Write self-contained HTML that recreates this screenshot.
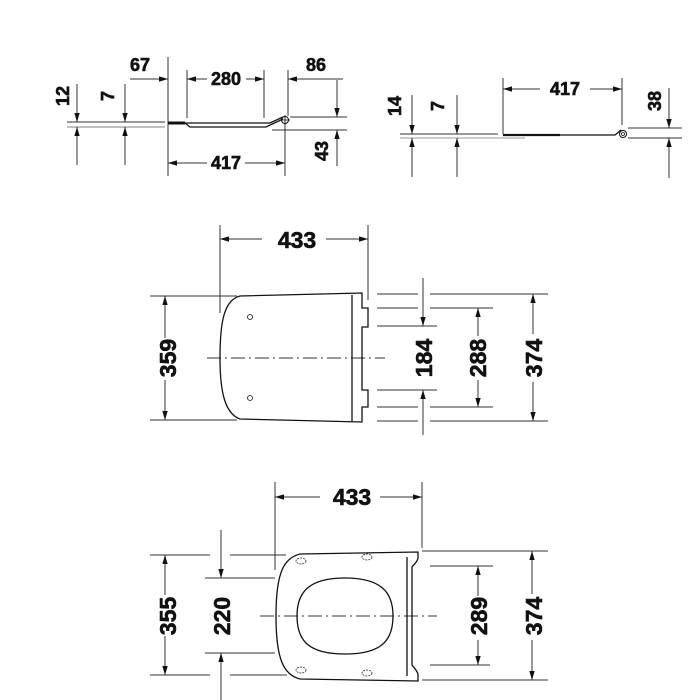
<!DOCTYPE html>
<html><head><meta charset="utf-8"><style>
html,body{margin:0;padding:0;background:#fff;}
svg{display:block}
text{font-family:"Liberation Sans",sans-serif;font-weight:bold;fill:#111;stroke:#111;stroke-width:0.6;}
</style></head><body>
<svg width="700" height="700" viewBox="0 0 700 700" xmlns="http://www.w3.org/2000/svg">
<defs>
<marker id="a" viewBox="0 0 10 6" refX="10" refY="3" markerWidth="9" markerHeight="5.5" markerUnits="userSpaceOnUse" orient="auto"><path d="M0,0 L10,3 L0,6 Z" fill="#111" stroke="none"/></marker>
</defs>
<g stroke="#333" stroke-width="1" fill="none">
<line x1="168" y1="57" x2="168" y2="176"/>
<line x1="187" y1="70" x2="187" y2="118"/>
<line x1="264" y1="70" x2="264" y2="118"/>
<line x1="288" y1="70" x2="288" y2="116"/>
<line x1="285" y1="124" x2="285" y2="176"/>
<line x1="130" y1="79" x2="168" y2="79" marker-end="url(#a)"/>
<line x1="207" y1="79" x2="187" y2="79" marker-end="url(#a)"/>
<line x1="246" y1="79" x2="264" y2="79" marker-end="url(#a)"/>
<line x1="343" y1="79" x2="288" y2="79" marker-end="url(#a)"/>
<line x1="207" y1="163" x2="168" y2="163" marker-end="url(#a)"/>
<line x1="245" y1="163" x2="285" y2="163" marker-end="url(#a)"/>
<line x1="67" y1="122" x2="165" y2="122"/>
<line x1="67" y1="127" x2="165" y2="127" stroke="#aaa" stroke-width="1.5"/>
<line x1="77" y1="84" x2="77" y2="122" marker-end="url(#a)"/>
<line x1="77" y1="165" x2="77" y2="127" marker-end="url(#a)"/>
<line x1="125" y1="84" x2="125" y2="122" marker-end="url(#a)"/>
<line x1="125" y1="165" x2="125" y2="127" marker-end="url(#a)"/>
<line x1="290" y1="117" x2="347" y2="117"/>
<line x1="272" y1="130" x2="347" y2="130"/>
<line x1="337" y1="80" x2="337" y2="117" marker-end="url(#a)"/>
<line x1="337" y1="166" x2="337" y2="130" marker-end="url(#a)"/>
<line x1="503" y1="78" x2="503" y2="134"/>
<line x1="622" y1="78" x2="622" y2="125"/>
<line x1="540" y1="89" x2="503" y2="89" marker-end="url(#a)"/>
<line x1="590" y1="89" x2="622" y2="89" marker-end="url(#a)"/>
<line x1="400" y1="134" x2="498" y2="134"/>
<line x1="400" y1="138" x2="525" y2="138" stroke="#999"/>
<line x1="412" y1="95" x2="412" y2="134" marker-end="url(#a)"/>
<line x1="412" y1="177" x2="412" y2="138" marker-end="url(#a)"/>
<line x1="457" y1="95" x2="457" y2="134" marker-end="url(#a)"/>
<line x1="457" y1="177" x2="457" y2="138" marker-end="url(#a)"/>
<line x1="628" y1="128" x2="682" y2="128"/>
<line x1="628" y1="138" x2="682" y2="138"/>
<line x1="669" y1="88" x2="669" y2="128" marker-end="url(#a)"/>
<line x1="669" y1="178" x2="669" y2="138" marker-end="url(#a)"/>
<line x1="220" y1="225" x2="220" y2="313"/>
<line x1="368" y1="225" x2="368" y2="300"/>
<line x1="262" y1="239" x2="220" y2="239" marker-end="url(#a)"/>
<line x1="326" y1="239" x2="368" y2="239" marker-end="url(#a)"/>
<line x1="150" y1="296" x2="237" y2="296"/>
<line x1="150" y1="420" x2="237" y2="420"/>
<line x1="165" y1="338" x2="165" y2="296" marker-end="url(#a)"/>
<line x1="165" y1="380" x2="165" y2="420" marker-end="url(#a)"/>
<line x1="377" y1="294" x2="418" y2="294"/><line x1="430" y1="294" x2="548" y2="294"/>
<line x1="377" y1="308" x2="418" y2="308"/><line x1="430" y1="308" x2="493" y2="308"/>
<line x1="377" y1="326" x2="437" y2="326"/>
<line x1="377" y1="390" x2="437" y2="390"/>
<line x1="377" y1="407" x2="418" y2="407"/><line x1="430" y1="407" x2="493" y2="407"/>
<line x1="377" y1="421" x2="418" y2="421"/><line x1="430" y1="421" x2="548" y2="421"/>
<line x1="423" y1="278" x2="423" y2="326" marker-end="url(#a)"/>
<line x1="423" y1="435" x2="423" y2="390" marker-end="url(#a)"/>
<line x1="478" y1="336" x2="478" y2="308" marker-end="url(#a)"/>
<line x1="478" y1="380" x2="478" y2="407" marker-end="url(#a)"/>
<line x1="533" y1="334" x2="533" y2="294" marker-end="url(#a)"/>
<line x1="533" y1="382" x2="533" y2="421" marker-end="url(#a)"/>
<line x1="207" y1="358" x2="385" y2="358" stroke-dasharray="14,4,2,4"/>
<line x1="275" y1="482" x2="275" y2="570"/>
<line x1="422" y1="482" x2="422" y2="548"/>
<line x1="320" y1="497" x2="275" y2="497" marker-end="url(#a)"/>
<line x1="380" y1="497" x2="422" y2="497" marker-end="url(#a)"/>
<line x1="150" y1="555" x2="210" y2="555"/><line x1="230" y1="555" x2="286" y2="555"/>
<line x1="150" y1="675" x2="210" y2="675"/><line x1="230" y1="675" x2="287" y2="675"/>
<line x1="205" y1="578" x2="275" y2="578"/>
<line x1="205" y1="653" x2="275" y2="653"/>
<line x1="165" y1="595" x2="165" y2="555" marker-end="url(#a)"/>
<line x1="165" y1="636" x2="165" y2="675" marker-end="url(#a)"/>
<line x1="221" y1="530" x2="221" y2="578" marker-end="url(#a)"/>
<line x1="221" y1="700" x2="221" y2="653" marker-end="url(#a)"/>
<line x1="422" y1="551" x2="548" y2="551"/>
<line x1="422" y1="680" x2="548" y2="680"/>
<line x1="430" y1="566" x2="493" y2="566"/>
<line x1="430" y1="665" x2="490" y2="665"/>
<line x1="478" y1="596" x2="478" y2="566" marker-end="url(#a)"/>
<line x1="478" y1="640" x2="478" y2="665" marker-end="url(#a)"/>
<line x1="532" y1="594" x2="532" y2="551" marker-end="url(#a)"/>
<line x1="532" y1="640" x2="532" y2="680" marker-end="url(#a)"/>
<line x1="260" y1="616" x2="437" y2="616" stroke-dasharray="14,4,2,4"/>
</g>
<g stroke="#111" fill="none" stroke-width="1.3">
<line x1="168" y1="123" x2="185" y2="123" stroke-width="3"/>
<path d="M185,123 L190,127 L266,127 L283,119"/>
<path d="M185,123 L270,123 L283,117"/>
<circle cx="285" cy="120" r="3.5" stroke-width="1"/>
<path d="M280,120 H290 M285,115 V125" stroke-width="0.8"/>
<line x1="503" y1="135" x2="560" y2="135" stroke-width="2.2"/>
<path d="M560,135 L615,135 L621,130"/>
<circle cx="623" cy="134" r="3.5" stroke-width="1"/>
<circle cx="623" cy="134" r="1.5" stroke-width="0.8"/>
<path d="M240,296 L362,293 L362,308 L368,308 L368,327 L362,327 L362,390 L368,390 L368,407 L362,407 L362,422 L240,419 C226,414 220,395 220,358 C220,322 224,300 240,296 Z"/>
<line x1="352" y1="295" x2="352" y2="421"/>
<circle cx="250" cy="317" r="2.5" stroke-width="0.8"/>
<circle cx="250" cy="398" r="2.5" stroke-width="0.8"/>
<path d="M300,554 L418,552 L418,558 C417,563 413,565 412,567 L412,665 C414,668 418,671 418,675 L418,681 L300,679 C284,675 276,660 276,616 C276,572 284,558 300,554 Z"/>
<line x1="407" y1="557" x2="407" y2="676"/>
<path d="M345,578 C381,578 393,592 393,616 C393,641 381,654 345,654 C309,654 297,641 297,616 C297,592 309,578 345,578 Z"/>
<g stroke-width="0.7" stroke-dasharray="2,1">
<ellipse cx="301" cy="561" rx="5" ry="3"/>
<ellipse cx="367" cy="557" rx="5" ry="3"/>
<ellipse cx="301" cy="670" rx="5" ry="3"/>
<ellipse cx="367" cy="673" rx="5" ry="3"/>
</g>
</g>
<g font-size="18" text-anchor="middle" dominant-baseline="central">
<text x="140" y="65">67</text>
<text x="226" y="79">280</text>
<text x="316" y="65">86</text>
<text x="226" y="163">417</text>
<text transform="translate(63,96) rotate(-90)">12</text>
<text transform="translate(108,96) rotate(-90)">7</text>
<text transform="translate(322,151) rotate(-90)">43</text>
<text x="565" y="89">417</text>
<text transform="translate(395,106) rotate(-90)">14</text>
<text transform="translate(438,106) rotate(-90)">7</text>
<text transform="translate(655,101) rotate(-90)">38</text>
</g>
<g font-size="23" text-anchor="middle" dominant-baseline="central">
<text x="297" y="240">433</text>
<text transform="translate(168,358) rotate(-90)">359</text>
<text transform="translate(424,358) rotate(-90)">184</text>
<text transform="translate(478,358) rotate(-90)">288</text>
<text transform="translate(534,358) rotate(-90)">374</text>
<text x="352" y="497">433</text>
<text transform="translate(168,616) rotate(-90)">355</text>
<text transform="translate(222,616) rotate(-90)">220</text>
<text transform="translate(479,616) rotate(-90)">289</text>
<text transform="translate(534,616) rotate(-90)">374</text>
</g>
</svg>
</body></html>
